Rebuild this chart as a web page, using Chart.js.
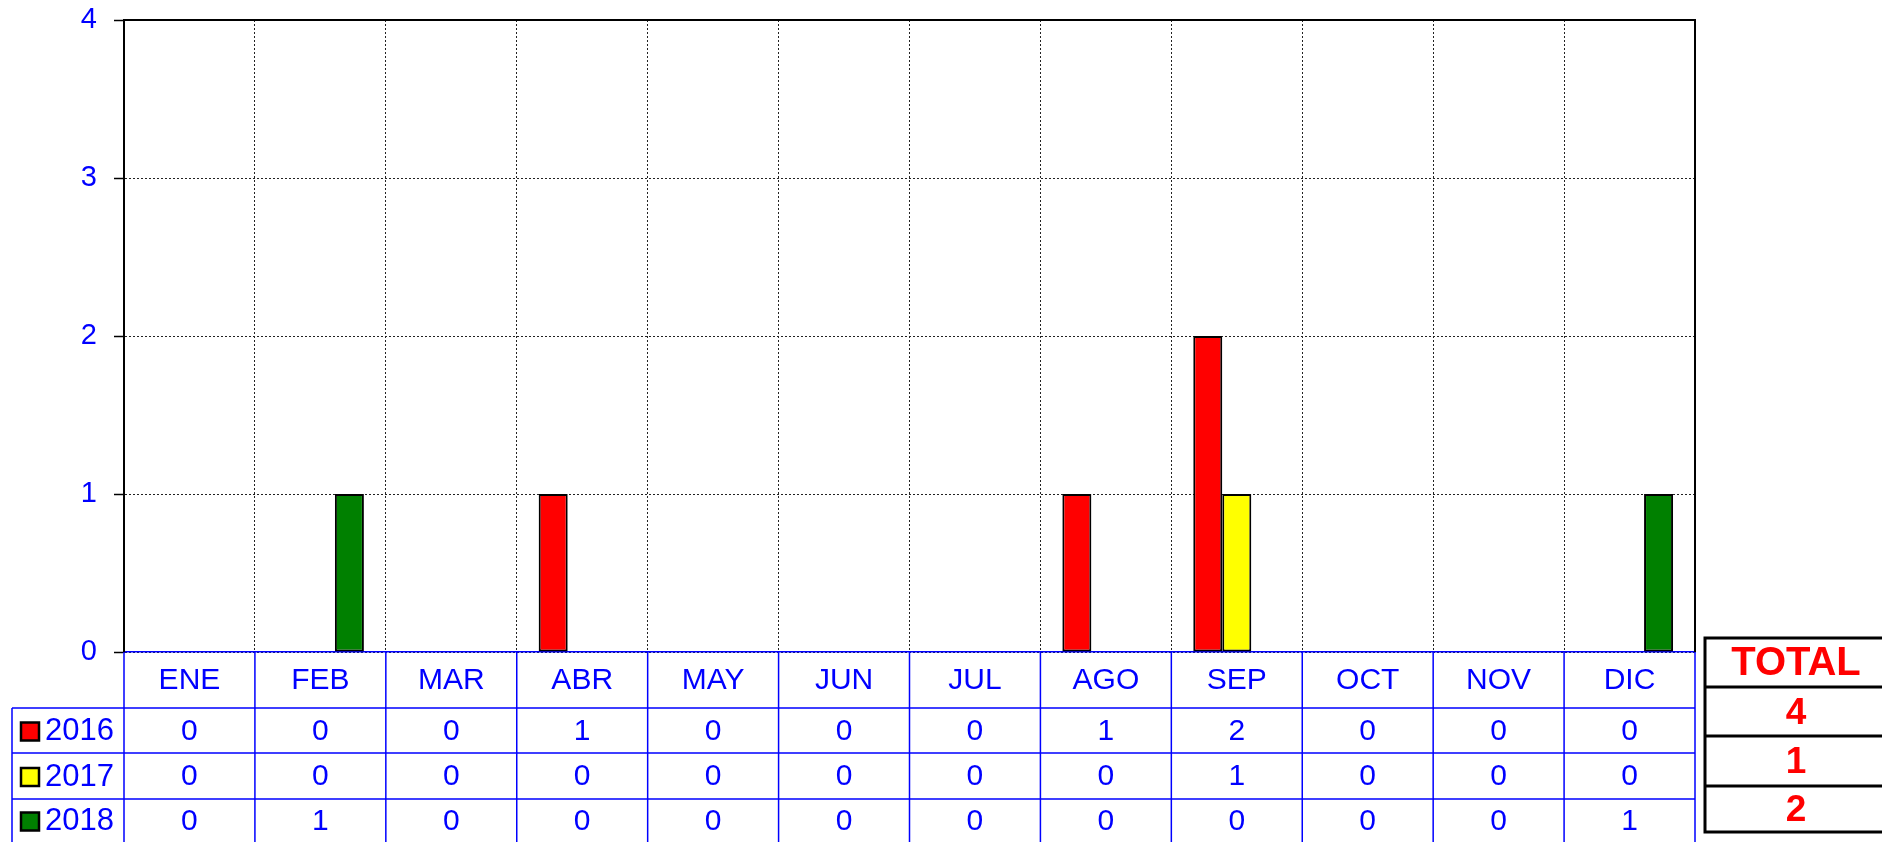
<!DOCTYPE html>
<html>
<head>
<meta charset="utf-8">
<script src="https://cdn.jsdelivr.net/npm/chart.js@4/dist/chart.umd.min.js"></script>
<style>
  html, body { margin: 0; padding: 0; background: #fff; }
  #wrap { width: 1882px; height: 842px; position: relative; }
</style>
</head>
<body>
<div id="wrap"><canvas id="chart"></canvas></div>
<script>
// data
var meses = ['ENE', 'FEB', 'MAR', 'ABR', 'MAY', 'JUN', 'JUL', 'AGO', 'SEP', 'OCT', 'NOV', 'DIC'];
var anios = ['2016', '2017', '2018'];
var datos2016 = [0, 0, 0, 1, 0, 0, 0, 1, 2, 0, 0, 0];
var datos2017 = [0, 0, 0, 0, 0, 0, 0, 0, 1, 0, 0, 0];
var datos2018 = [0, 1, 0, 0, 0, 0, 0, 0, 0, 0, 0, 1];
var totales = [4, 1, 2];
var colores = ['#ff0000', '#ffff00', '#008000'];

var azul = '#0000ff';
var fuente = '"Liberation Sans", Arial, sans-serif';

// tabla de datos debajo del eje x + cuadro TOTAL
var tablaPlugin = {
  id: 'tabla',
  afterDraw: function(chart) {
    var ctx = chart.ctx;
    var area = chart.chartArea;
    var x = chart.scales.x;
    var series = [datos2016, datos2017, datos2018];
    var filas = [area.bottom, 708, 753, 799, 842];
    var izq = 12;

    ctx.save();

    // marco del area de trazado
    ctx.strokeStyle = '#000';
    ctx.lineWidth = 2;
    ctx.beginPath();
    ctx.moveTo(area.left, area.top);
    ctx.lineTo(area.right, area.top);
    ctx.lineTo(area.right, area.bottom);
    ctx.stroke();

    // lineas de la tabla
    ctx.strokeStyle = azul;
    ctx.lineWidth = 1.5;
    ctx.beginPath();
    var bordes = [area.left];
    for (var i = 1; i < meses.length; i++) {
      bordes.push((x.getPixelForValue(i - 1) + x.getPixelForValue(i)) / 2);
    }
    bordes.push(area.right);
    bordes.forEach(function(bx) {
      ctx.moveTo(bx, area.bottom);
      ctx.lineTo(bx, 842);
    });
    for (var r = 1; r < 4; r++) {
      ctx.moveTo(izq, filas[r]);
      ctx.lineTo(area.right, filas[r]);
    }
    ctx.moveTo(izq, filas[1]);
    ctx.lineTo(izq, 842);
    ctx.stroke();

    // encabezados de meses
    ctx.fillStyle = azul;
    ctx.font = '30px ' + fuente;
    ctx.textAlign = 'center';
    ctx.textBaseline = 'middle';
    meses.forEach(function(m, i) {
      ctx.fillText(m, x.getPixelForValue(i), (filas[0] + filas[1]) / 2 + 1);
    });

    // filas de valores con leyenda
    series.forEach(function(serie, s) {
      var cy = (filas[s + 1] + filas[s + 2]) / 2 + 1;
      ctx.fillStyle = colores[s];
      ctx.fillRect(21, cy - 9, 18, 18);
      ctx.strokeStyle = '#000';
      ctx.lineWidth = 2.5;
      ctx.strokeRect(21, cy - 9, 18, 18);

      ctx.fillStyle = azul;
      ctx.textAlign = 'left';
      ctx.font = '31px ' + fuente;
      ctx.fillText(anios[s], 45, cy);

      ctx.textAlign = 'center';
      ctx.font = '30px ' + fuente;
      serie.forEach(function(v, i) {
        ctx.fillText(String(v), x.getPixelForValue(i), cy);
      });
    });

    // cuadro TOTAL
    var tx = 1705, tw = 190;
    var tf = [638, 687, 736, 786, 832];
    ctx.strokeStyle = '#000';
    ctx.lineWidth = 3;
    ctx.beginPath();
    ctx.rect(tx, tf[0], tw, tf[4] - tf[0]);
    for (var k = 1; k < 4; k++) {
      ctx.moveTo(tx, tf[k]);
      ctx.lineTo(tx + tw, tf[k]);
    }
    ctx.stroke();

    ctx.fillStyle = '#ff0000';
    ctx.textAlign = 'center';
    ctx.font = 'bold 40px ' + fuente;
    ctx.fillText('TOTAL', 1796, (tf[0] + tf[1]) / 2 + 1);
    ctx.font = 'bold 37px ' + fuente;
    totales.forEach(function(t, s) {
      ctx.fillText(String(t), 1796, (tf[s + 1] + tf[s + 2]) / 2 + 2);
    });

    ctx.restore();
  }
};

var canvas = document.getElementById('chart');
var grafica = new Chart(canvas.getContext('2d'), {
  type: 'bar',
  data: {
    labels: meses,
    datasets: [
      { label: anios[0], data: datos2016, backgroundColor: colores[0] },
      { label: anios[1], data: datos2017, backgroundColor: colores[1] },
      { label: anios[2], data: datos2018, backgroundColor: colores[2] }
    ]
  },
  options: {
    responsive: true,
    maintainAspectRatio: false,
    animation: false,
    layout: { padding: { left: 0, top: 20, right: 187, bottom: 0 } },
    datasets: {
      bar: {
        borderColor: '#000',
        borderWidth: 2,
        borderSkipped: false,
        barPercentage: 1,
        categoryPercentage: 0.665
      }
    },
    plugins: {
      legend: { display: false },
      tooltip: { enabled: false }
    },
    scales: {
      x: {
        offset: true,
        ticks: { display: false },
        grid: {
          offset: true,
          color: '#222',
          lineWidth: 1,
          drawTicks: false
        },
        border: { color: azul, width: 1.5, dash: [2, 2] },
        afterFit: function(scale) {
          scale.height = 190;
          scale.paddingLeft = 0;
          scale.paddingRight = 0;
        }
      },
      y: {
        min: 0,
        max: 4,
        ticks: {
          stepSize: 1,
          color: azul,
          padding: 17,
          font: { family: fuente, size: 29 }
        },
        grid: {
          color: '#222',
          lineWidth: 1,
          tickLength: 10,
          tickColor: '#000',
          tickWidth: 1.5
        },
        border: { color: '#000', width: 2, dash: [2, 2] },
        afterFit: function(scale) {
          scale.width = 124;
          scale.paddingTop = 0;
          scale.paddingBottom = 0;
        }
      }
    }
  },
  plugins: [tablaPlugin]
});
</script>
</body>
</html>
